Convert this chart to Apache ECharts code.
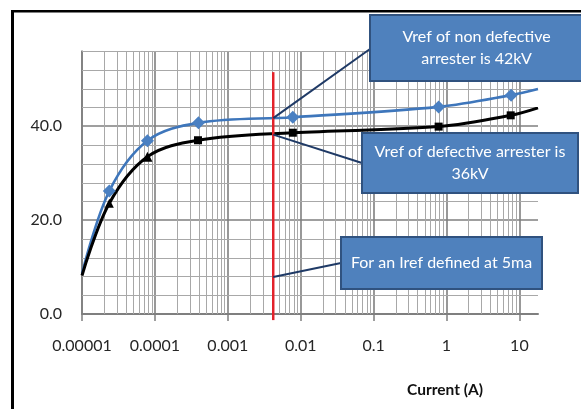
<!DOCTYPE html>
<html><head><meta charset="utf-8">
<script src="https://cdn.jsdelivr.net/npm/echarts@6/dist/echarts.min.js"></script>
<style>html,body{margin:0;padding:0;background:#fff}#c{width:581px;height:409px}</style>
</head><body><div id="c"></div>
<script>
// ---- data ----
const xTickLabels = ['0.00001','0.0001','0.001','0.01','0.1','1','10'];
const yTickLabels = ['0.0','20.0','40.0'];
const currentNonDefective = [1e-5, 2.37e-5, 7.9e-5, 3.96e-4, 7.8e-3, 0.78, 7.7, 18];
const voltageNonDefective = [8.6, 26.2, 36.9, 40.7, 41.9, 44.1, 46.6, 47.9];
const currentDefective = [1e-5, 2.37e-5, 7.9e-5, 3.9e-4, 7.8e-3, 0.78, 7.6, 18];
const voltageDefective = [8.2, 23.6, 33.5, 37.0, 38.6, 39.9, 42.3, 43.9];
const irefCurrent = 0.0042;
const irefLine = [51.5, -1.3];
const calloutTexts = ['Vref of non defective\narrester is 42kV', 'Vref of defective arrester is\n36kV', 'For an Iref defined at 5ma'];
const calloutTargets = [41.7, 38.2, 7.9];

const X_MIN = 1e-5, X_MAX = 18, Y_MAX = 56;
const FONT = 'Lato, "Open Sans", sans-serif';

// minor grid values (log decades 2..9, and every 4 units on y)
const xMinor = [];
for (let e = -5; e <= 1; e++) for (let k = 2; k <= 9; k++) { const v = k * Math.pow(10, e); if (v < X_MAX) xMinor.push(v); }
const yMinor = [];
for (let v = 4; v <= Y_MAX; v += 4) if (v % 20 !== 0) yMinor.push(v);

function mkData(xs, ys) {
  return xs.map((x, i) => {
    const edge = (i === 0 || i === xs.length - 1);
    return edge ? { value: [x, ys[i]], symbol: 'none' } : { value: [x, ys[i]] };
  });
}
const defData = mkData(currentDefective, voltageDefective);
defData[1].symbol = 'triangle'; defData[1].symbolSize = 9;
defData[2].symbol = 'triangle'; defData[2].symbolSize = 10;

const minorStyle = { stroke: '#a8a8a8', lineWidth: 1 };

const chart = echarts.init(document.getElementById('c'), null, { renderer: 'canvas' });
chart.setOption({
  animation: false,
  backgroundColor: '#fff',
  grid: { left: 82, right: 43, top: 51, bottom: 95 },
  title: { text: 'Current (A)', left: 402, top: 377, textStyle: { fontFamily: FONT, fontSize: 15.5, fontWeight: 'bold', color: '#111' } },
  xAxis: {
    type: 'log', logBase: 10, min: X_MIN, max: X_MAX,
    axisLine: { show: true, lineStyle: { color: '#7f7f7f', width: 2 } },
    axisTick: { show: true, length: 7, lineStyle: { color: '#7f7f7f', width: 1.5 } },
    axisLabel: {
      margin: 24, fontFamily: FONT, fontSize: 16, color: '#262626', showMaxLabel: false,
      formatter: v => { const i = Math.round(Math.log10(v)) + 5; return (Math.abs(Math.log10(v) - (i - 5)) < 1e-6 && xTickLabels[i]) ? xTickLabels[i] : ''; }
    },
    splitLine: { show: true, showMaxLine: false, lineStyle: { color: '#7f7f7f', width: 1.6 } }
  },
  yAxis: {
    type: 'value', min: 0, max: Y_MAX, interval: 20,
    axisLine: { show: true, lineStyle: { color: '#7f7f7f', width: 1.6 } },
    axisTick: { show: false },
    axisLabel: { margin: 20, fontFamily: FONT, fontSize: 16, color: '#262626', showMaxLabel: false,
      formatter: v => (v % 20 === 0 && yTickLabels[v / 20]) ? yTickLabels[v / 20] : '' },
    splitLine: { show: true, showMaxLine: false, lineStyle: { color: '#7f7f7f', width: 1.6 } }
  },
  series: [
    {
      type: 'custom', z: 1, silent: true, clip: false,
      encode: { x: 0, y: 1 },
      data: xMinor.map(v => [v, 0]),
      renderItem: (params, api) => {
        const v = api.value(0);
        const a = api.coord([v, 0]), b = api.coord([v, Y_MAX]);
        return { type: 'line', shape: { x1: Math.round(a[0]) + 0.5, y1: a[1], x2: Math.round(b[0]) + 0.5, y2: b[1] }, style: minorStyle };
      }
    },
    {
      type: 'custom', z: 1, silent: true, clip: false,
      encode: { x: 0, y: 1 },
      data: yMinor.map(v => [X_MIN, v]),
      renderItem: (params, api) => {
        const v = api.value(1);
        const a = api.coord([X_MIN, v]), b = api.coord([X_MAX, v]);
        return { type: 'line', shape: { x1: a[0], y1: Math.round(a[1]) + 0.5, x2: b[0], y2: Math.round(b[1]) + 0.5 }, style: minorStyle };
      }
    },
    {
      name: 'non defective', type: 'line', z: 3, smooth: 0.35,
      data: mkData(currentNonDefective, voltageNonDefective),
      symbol: 'diamond', symbolSize: 13,
      lineStyle: { color: '#3e76bb', width: 2.6 },
      itemStyle: { color: '#4a80c2' }
    },
    {
      name: 'defective', type: 'line', z: 3, smooth: 0.35,
      data: defData,
      symbol: 'rect', symbolSize: 8,
      lineStyle: { color: '#000', width: 3 },
      itemStyle: { color: '#000' }
    },
    {
      name: 'Iref', type: 'line', z: 4, clip: false, symbol: 'none',
      data: irefLine.map(y => [irefCurrent, y]),
      lineStyle: { color: '#e3222a', width: 2.5 }
    }
  ]
});

// callouts
const boxes = [
  { x: 370, y: 15, w: 213, h: 66, ax: 370, ay: 49 },
  { x: 362, y: 133, w: 216, h: 60, ax: 362, ay: 163 },
  { x: 341, y: 237, w: 201, h: 52, ax: 341, ay: 263 }
];
const g = [];
boxes.forEach((b, i) => {
  const p = chart.convertToPixel({ gridIndex: 0 }, [irefCurrent, calloutTargets[i]]);
  g.push({ type: 'line', z: 100, silent: true, shape: { x1: p[0], y1: p[1], x2: b.ax, y2: b.ay }, style: { stroke: '#1f3a66', lineWidth: 2 } });
});
boxes.forEach((b, i) => {
  g.push({ type: 'rect', z: 101, silent: true, shape: { x: b.x, y: b.y, width: b.w, height: b.h }, style: { fill: '#4f81bd', stroke: '#30527f', lineWidth: 2 } });
  g.push({ type: 'text', z: 102, silent: true, x: b.x + b.w / 2, y: b.y + b.h / 2,
    style: { text: calloutTexts[i], fill: '#fff', font: '16px ' + FONT, align: 'center', verticalAlign: 'middle', lineHeight: 22 } });
});
// frame
g.push({ type: 'line', z: 110, silent: true, shape: { x1: 12.5, y1: 10, x2: 12.5, y2: 409 }, style: { stroke: '#000', lineWidth: 3 } });
g.push({ type: 'line', z: 110, silent: true, shape: { x1: 11, y1: 11.3, x2: 581, y2: 11.3 }, style: { stroke: '#000', lineWidth: 2.6 } });
chart.setOption({ graphic: g });
</script>
</body></html>
